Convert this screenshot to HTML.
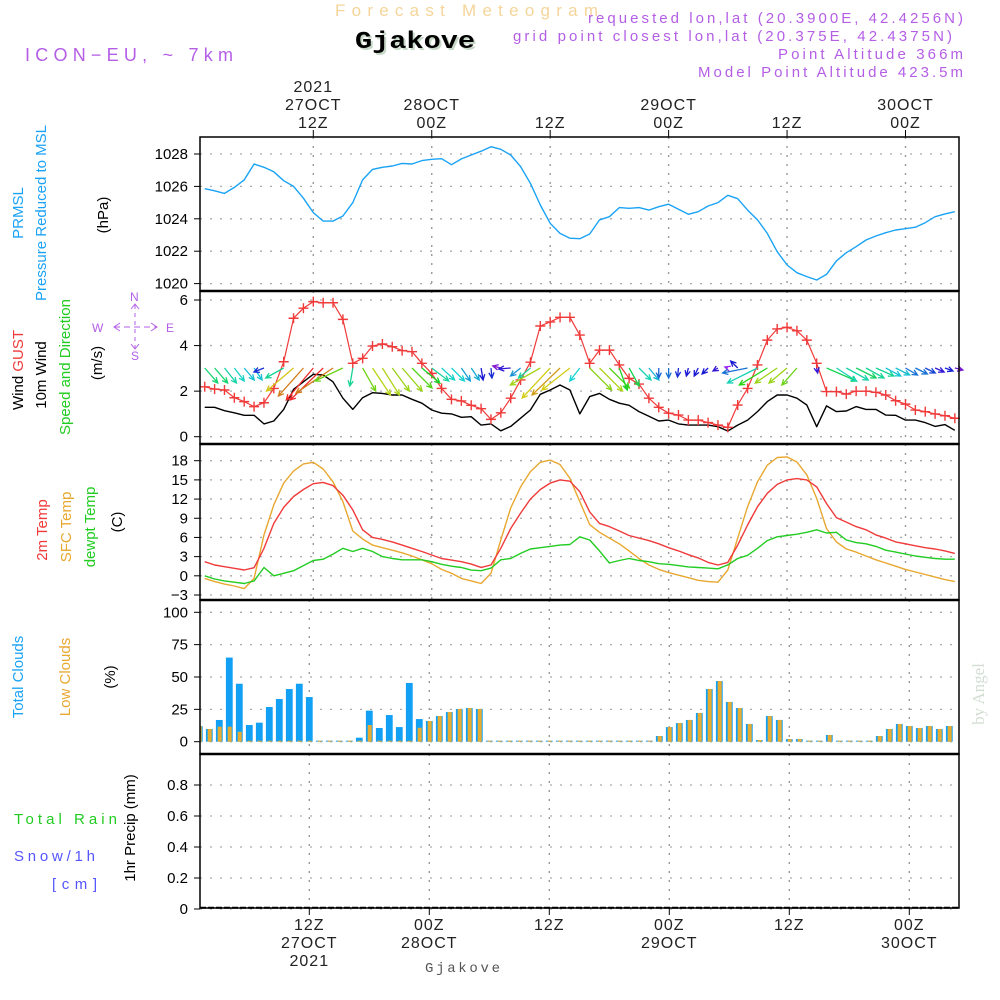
<!DOCTYPE html>
<html><head><meta charset="utf-8"><title>Forecast Meteogram Gjakove</title>
<style>
html,body{margin:0;padding:0;background:#fff;}
svg{display:block;font-family:"Liberation Sans",sans-serif;}
</style></head>
<body>
<svg id="chart" width="1000" height="1000" viewBox="0 0 1000 1000" xmlns="http://www.w3.org/2000/svg">
<g id="header">
  <text x="335" y="16" font-size="17" fill="#f5d59a" textLength="263" lengthAdjust="spacing">Forecast Meteogram</text>
  <text x="357" y="50" font-size="24" font-weight="bold" font-family="Liberation Mono, monospace" fill="#c8d8c8" textLength="120" lengthAdjust="spacingAndGlyphs">Gjakove</text>
  <text x="355" y="48" font-size="24" font-weight="bold" font-family="Liberation Mono, monospace" fill="#000" textLength="120" lengthAdjust="spacingAndGlyphs">Gjakove</text>
  <text x="25" y="61" font-size="18" fill="#b45ee6" textLength="208" lengthAdjust="spacing">ICON−EU, ~ 7km</text>
  <text x="588" y="23" font-size="15" fill="#b45ee6" textLength="375" lengthAdjust="spacing">requested lon,lat (20.3900E, 42.4256N)</text>
  <text x="513" y="41" font-size="15" fill="#b45ee6" textLength="439" lengthAdjust="spacing">grid point closest lon,lat (20.375E, 42.4375N)</text>
  <text x="778" y="59" font-size="15" fill="#b45ee6" textLength="185" lengthAdjust="spacing">Point Altitude 366m</text>
  <text x="698" y="77" font-size="15" fill="#b45ee6" textLength="265" lengthAdjust="spacing">Model Point Altitude 423.5m</text>
</g>
<g id="leftlabels" font-size="15">
  <text transform="translate(23,213) rotate(-90)" text-anchor="middle" fill="#1aa3f5">PRMSL</text>
  <text transform="translate(46,213) rotate(-90)" text-anchor="middle" fill="#1aa3f5">Pressure Reduced to MSL</text>
  <text transform="translate(108,215) rotate(-90)" text-anchor="middle" fill="#000">(hPa)</text>
  <text transform="translate(23,370) rotate(-90)" text-anchor="middle"><tspan fill="#000">Wind </tspan><tspan fill="#f03a3a">GUST</tspan></text>
  <text transform="translate(46,375) rotate(-90)" text-anchor="middle" fill="#000">10m Wind</text>
  <text transform="translate(70,367) rotate(-90)" text-anchor="middle" fill="#22cc22">Speed and Direction</text>
  <text transform="translate(102,363) rotate(-90)" text-anchor="middle" fill="#000">(m/s)</text>
  <text transform="translate(47,530) rotate(-90)" text-anchor="middle" fill="#f03a3a">2m Temp</text>
  <text transform="translate(71,527) rotate(-90)" text-anchor="middle" fill="#e8a830">SFC Temp</text>
  <text transform="translate(95,527) rotate(-90)" text-anchor="middle" fill="#22cc22">dewpt Temp</text>
  <text transform="translate(122,522) rotate(-90)" text-anchor="middle" fill="#000">(C)</text>
  <text transform="translate(23,677) rotate(-90)" text-anchor="middle" fill="#1aa3f5">Total Clouds</text>
  <text transform="translate(70,677) rotate(-90)" text-anchor="middle" fill="#e8a830">Low Clouds</text>
  <text transform="translate(115,677) rotate(-90)" text-anchor="middle" fill="#000">(%)</text>
  <text x="14" y="824" fill="#22cc22" textLength="103" lengthAdjust="spacing">Total   Rain</text>
  <text x="14" y="861" fill="#5555ff" textLength="81" lengthAdjust="spacing">Snow/1h</text>
  <text x="52" y="889" fill="#5555ff" textLength="45" lengthAdjust="spacing">[cm]</text>
  <text transform="translate(135,828) rotate(-90)" text-anchor="middle" fill="#000">1hr Precip (mm)</text>
  <g fill="#b45ee6" stroke="#b45ee6" font-size="12">
    <text x="92" y="332" stroke="none">W</text>
    <text x="166" y="332" stroke="none">E</text>
    <text x="130" y="301" stroke="none">N</text>
    <text x="131" y="360" stroke="none">S</text>
    <line x1="114" y1="327" x2="157" y2="327" stroke-dasharray="6,4" stroke-width="1"/>
    <line x1="135" y1="305" x2="135" y2="348" stroke-dasharray="4,4" stroke-width="1"/>
    <polyline points="120,323 114,327 120,331" fill="none"/>
    <polyline points="151,323 157,327 151,331" fill="none"/>
    <polyline points="131,309 135,304 139,309" fill="none"/>
    <polyline points="131,344 135,349 139,344" fill="none"/>
  </g>
  <text transform="translate(984,694) rotate(-90)" text-anchor="middle" font-family="Liberation Serif, serif" font-size="17" fill="#d3ded3">by Angel</text>
</g>
<g id="plot"></g>
</svg>
<script>
// ---- data (hourly from 01Z 27 OCT 2021) ----
const pressure = [1025.86,1025.73,1025.57,1025.94,1026.4,1027.38,1027.18,1026.9,1026.35,1026.0,1025.27,1024.38,1023.86,1023.86,1024.17,1025.0,1026.4,1027.05,1027.18,1027.26,1027.42,1027.38,1027.59,1027.67,1027.71,1027.34,1027.7,1027.94,1028.17,1028.45,1028.29,1027.94,1027.22,1026.19,1024.85,1023.72,1023.1,1022.8,1022.77,1023.06,1023.93,1024.13,1024.69,1024.65,1024.69,1024.54,1024.75,1024.9,1024.59,1024.28,1024.44,1024.79,1025.0,1025.45,1025.24,1024.54,1023.93,1023.1,1021.97,1021.15,1020.67,1020.43,1020.22,1020.57,1021.4,1021.91,1022.28,1022.69,1022.94,1023.14,1023.31,1023.39,1023.48,1023.76,1024.13,1024.3,1024.44];
const gust = [2.19,2.09,2.05,1.71,1.54,1.32,1.49,2.12,3.29,5.2,5.64,5.93,5.88,5.88,5.15,3.22,3.44,3.98,4.07,3.95,3.78,3.73,3.22,2.78,2.12,1.64,1.57,1.38,1.23,0.76,1.05,1.69,2.49,3.27,4.86,5.04,5.24,5.24,4.46,3.22,3.8,3.8,3.15,2.56,2.31,1.69,1.29,1.03,0.95,0.73,0.73,0.62,0.51,0.41,1.39,2.12,3.15,4.24,4.73,4.8,4.65,4.24,3.22,1.98,1.98,1.87,2.0,2.0,1.95,1.83,1.58,1.43,1.17,1.1,1.0,0.92,0.81];
const windSpeed = [1.29,1.29,1.14,1.05,0.94,0.94,0.56,0.69,1.2,2.08,2.41,2.74,2.71,2.41,1.69,1.2,1.71,1.93,1.9,1.83,1.83,1.64,1.47,1.17,1.03,1.0,0.85,0.88,0.51,0.56,0.26,0.45,0.81,1.17,1.86,2.05,2.27,2.05,1.0,1.76,1.9,1.64,1.47,1.38,1.1,0.9,0.69,0.73,0.56,0.51,0.51,0.51,0.44,0.25,0.51,0.73,1.1,1.54,1.83,1.83,1.69,1.39,0.44,1.35,1.1,1.13,1.32,1.2,1.2,0.95,0.94,0.73,0.73,0.62,0.45,0.53,0.28];
// wind arrow components (east, north)
const windU = [1.3,1.3,1.2,1.0,1.0,0.8,-1.0,0,-1.8,-2.7,-2.5,-2.7,-3.3,-3.7,-2.8,-0.3,1.3,1.8,1.7,1.7,2.0,2.0,1.8,1.7,1.3,1.3,0.9,0.8,0.2,0.1,-0.8,-1.2,-1.0,-1.2,-3.0,-2.8,-2.8,-2.8,-1.0,2.2,2.3,2.0,0.8,1.0,1.2,1.0,0,0,-0.1,-0.2,-0.4,-0.6,-0.5,-0.3,-0.7,-2.5,-3.0,-2.8,-2.2,-1.8,-1.5,0,0.1,3.0,2.0,2.2,2.0,1.8,1.8,1.5,1.4,1.2,1.2,1.0,0.9,0.8,0.8];
const windV = [-1.5,-1.5,-1.5,-1.3,-1.2,-1.2,-0.4,0,-1.0,-2.3,-2.8,-3.2,-3.2,-2.5,-1.3,-1.8,-2.3,-2.7,-2.7,-2.3,-2.3,-2.0,-1.5,-1.3,-1.2,-1.3,-1.3,-1.2,-1.2,-1.0,0.2,-0.1,-0.8,-1.0,-1.7,-3.0,-2.7,-2.2,-1.3,-2.2,-2.3,-2.0,-2.2,-1.8,-1.2,-1.2,-1.0,-1.0,-0.9,-0.8,-0.8,-0.6,-0.3,0.1,0.7,-0.5,-1.5,-1.7,-1.5,-1.5,-1.7,0,-0.5,-1.3,-1.3,-1.2,-1.0,-1.0,-0.8,-0.8,-0.7,-0.7,-0.6,-0.5,-0.4,-0.3,-0.2];
const temp2m = [2.2,1.69,1.43,1.17,0.91,1.27,4.3,8.2,10.7,12.4,13.5,14.4,14.6,14.1,12.6,10.3,7.2,6.0,5.7,5.3,4.8,4.3,3.8,3.25,2.7,2.45,2.2,1.83,1.31,1.69,4.3,7.4,9.8,12.0,13.5,14.5,15.0,14.8,13.15,10.0,8.2,7.7,7.0,6.3,5.9,5.5,5.0,4.4,3.9,3.3,2.8,2.1,1.69,2.1,4.8,7.95,10.8,12.9,14.3,15.0,15.2,15.0,13.9,11.3,9.1,8.4,7.7,7.2,6.4,5.9,5.3,5.0,4.7,4.4,4.2,3.9,3.5];
const tempSfc = [-0.4,-0.9,-1.3,-1.6,-2.0,-0.4,6.4,11.1,14.5,16.4,17.5,17.75,16.7,14.7,11.6,7.0,5.75,4.8,4.4,4.0,3.6,3.1,2.5,1.9,1.0,0.4,-0.4,-0.8,-1.2,0.4,5.6,10.6,13.9,16.3,17.75,18.1,17.4,15.25,11.6,8.0,6.8,5.9,5.0,3.9,2.7,1.69,1.0,0.5,0.1,-0.3,-0.7,-0.9,-1.0,0.9,5.9,10.8,14.7,17.3,18.5,18.6,17.8,15.8,12.1,7.4,5.3,4.2,3.7,3.1,2.5,2.0,1.5,1.0,0.6,0.2,-0.2,-0.6,-0.9];
const dewpt = [0,-0.5,-0.8,-1.0,-1.2,-0.8,1.3,0,0.4,0.8,1.6,2.4,2.6,3.4,4.3,3.8,4.3,3.8,3.0,2.7,2.5,2.5,2.5,2.2,1.8,1.5,1.3,0.9,0.8,1.2,2.5,2.7,3.5,4.2,4.4,4.6,4.8,4.9,6.1,5.6,3.9,2.0,2.4,2.7,2.4,2.2,1.9,1.8,1.6,1.4,1.3,1.2,1.1,1.7,2.7,3.2,4.3,5.5,6.1,6.3,6.5,6.8,7.2,6.7,6.8,5.6,5.2,5.0,4.6,4.0,3.7,3.4,3.1,2.9,2.7,2.6,2.6];
const totalClouds = [11.6,12,9.8,16.8,65,44.8,12.9,14.7,26.8,33,40.7,44.8,34.5,0,0,0,0,3.1,24,10.6,20.6,11.3,45.4,17.5,16,19.8,22.9,25.3,26,25.3,0,0,0,0,0,0,0,0,0,0,0,0,0,0,0,0,0,4.4,11.3,14.4,16.8,22.2,40.7,46.9,30.7,26,13.7,1.3,19.8,16.8,2,2,0.8,0.5,5.2,0,0,0,0,4.4,9.8,13.7,12.1,10.6,12.1,9.8,12.1];
const lowClouds = [11.6,12,9.8,11.6,11.6,7.7,0,0,0,0,0,0,0,0,0,0,0,0,12.9,0,0,0,0,10.8,16,19.8,22.9,25.3,26,25.3,0,0,0,0,0,0,0,0,0,0,0,0,0,0,0,0,0,4.4,11.3,14.4,16.8,22.2,40.7,46.9,30.7,26,13.7,1.3,19.8,16.8,2,2,0.8,0.5,5.2,0,0,0,0,4.4,9.8,13.7,12.1,10.6,12.1,9.8,12.1];
const precip = [0,0,0,0,0,0,0,0,0,0,0,0,0,0,0,0,0,0,0,0,0,0,0,0,0,0,0,0,0,0,0,0,0,0,0,0,0,0,0,0,0,0,0,0,0,0,0,0,0,0,0,0,0,0,0,0,0,0,0,0,0,0,0,0,0,0,0,0,0,0,0,0,0,0,0,0,0];
// tick labels
const pressTicks = [1020,1022,1024,1026,1028];
const windTicks = [0,2,4,6];
const tempTicks = [-3,0,3,6,9,12,15,18];
const cloudTicks = [0,25,50,75,100];
const precipTicks = [0,0.2,0.4,0.6,0.8];
const timeTickHours = [12,24,36,48,60,72];
const topTimeLabels = [["2021","27OCT","12Z"],["28OCT","00Z"],["12Z"],["29OCT","00Z"],["12Z"],["30OCT","00Z"]];
const botTimeLabels = [["12Z","27OCT","2021"],["00Z","28OCT"],["12Z"],["00Z","29OCT"],["12Z"],["00Z","30OCT"]];

// ---- axis functions ----
const X0 = 200, X1 = 959;
const xUp = h => 313.3 + (h - 12) * 9.87;
const xLo = h => 309.3 + (h - 12) * 10;
const hourOf = i => i + 1;
const yP = p => 154 + (1028 - p) * 16.2;
const yW = v => 436.7 - 22.78 * v;
const yT = t => 460.7 + (18 - t) * 6.395;
const yC = c => 741.7 - 1.294 * c;
const yR = r => 909 - 155 * r;

const NS = "http://www.w3.org/2000/svg";
const plot = document.getElementById('plot');
function mk(tag, attrs, parent) {
  const e = document.createElementNS(NS, tag);
  for (const k in attrs) e.setAttribute(k, attrs[k]);
  (parent || plot).appendChild(e);
  return e;
}
const panels = [
  {name:'pressure-panel', top:137, bot:291, ticks:pressTicks, y:yP, x:xUp, fmt:v=>String(v)},
  {name:'wind-panel', top:291, bot:444, ticks:windTicks, y:yW, x:xUp, fmt:v=>String(v)},
  {name:'temp-panel', top:444, bot:600, ticks:tempTicks, y:yT, x:xUp, fmt:v=>(v<0?'−'+(-v):String(v))},
  {name:'clouds-panel', top:600, bot:754, ticks:cloudTicks, y:yC, x:xLo, fmt:v=>String(v)},
  {name:'precip-panel', top:754, bot:908, ticks:precipTicks, y:yR, x:xLo, fmt:v=>(v===0?'0':v.toFixed(1))}
];
const clipDefs = mk('defs', {});
panels.forEach((p, idx) => {
  const cp = mk('clipPath', {id:'clip' + idx}, clipDefs);
  mk('rect', {x:X0, y:p.top, width:X1 - X0, height:p.bot - p.top}, cp);
  const g = mk('g', {});
  
  
  p.g = g;
  p.ticks.forEach(v => {
    const y = p.y(v);
    const l = mk('line', {x1:X0, x2:X1, y1:y, y2:y, stroke:'#aaa', 'stroke-width':1.3, 'stroke-dasharray':'2,8'}, g);
    
    
    mk('line', {x1:X0 - 6, x2:X0, y1:y, y2:y, stroke:'#000', 'stroke-width':1}, g);
    const t = mk('text', {x:X0 - 12, y:y + 5, 'font-size':15, 'text-anchor':'end', fill:'#000'}, g);
    
    
    t.textContent = p.fmt(v);
  });
  timeTickHours.forEach(h => {
    const x = p.x(h);
    const l = mk('line', {x1:x, x2:x, y1:p.top, y2:p.bot, stroke:'#999', 'stroke-width':1.4, 'stroke-dasharray':'2,7'}, g);
    
    
  });
});
function linePath(arr, yf, g, color, name, w) {
  const d = arr.map((v, i) => (i ? 'L' : 'M') + xUp(hourOf(i)).toFixed(1) + ',' + yf(v).toFixed(1)).join('');
  const e = mk('path', {d:d, fill:'none', stroke:color, 'stroke-width':w || 1.4, 'stroke-linejoin':'round'}, g);
  
  
  return e;
}
linePath(pressure, yP, panels[0].g, '#1aa3f5', 'pressure-line');
const wg = panels[1].g;
linePath(windSpeed, yW, wg, '#000', 'wind-speed-line', 1.4);
linePath(gust, yW, wg, '#f03a3a', 'gust-line', 1.2);
gust.forEach((v, i) => {
  const x = xUp(hourOf(i)), y = yW(v);
  const m = mk('path', {d:`M${x-5},${y}H${x+5}M${x},${y-5}V${y+5}`, stroke:'#f03a3a', 'stroke-width':1.4}, wg);
  
  
});
function speedColor(s) {
  const st = [[0.25,275],[0.6,228],[0.9,190],[1.2,160],[1.5,120],[1.75,85],[2.05,58],[2.4,33],[2.7,2]];
  if (s <= st[0][0]) return `hsl(${st[0][1]},90%,55%)`;
  for (let k = 1; k < st.length; k++) {
    if (s <= st[k][0]) {
      const f = (s - st[k-1][0]) / (st[k][0] - st[k-1][0]);
      return `hsl(${st[k-1][1] + f * (st[k][1] - st[k-1][1])},80%,46%)`;
    }
  }
  return 'hsl(0,85%,55%)';
}
windU.forEach((u, i) => {
  const v = windV[i];
  const dx = u * 10, dy = -v * 10;
  const len = Math.hypot(dx, dy);
  if (len < 0.5) return;
  const x0 = xUp(hourOf(i)), y0 = 368;
  const x1 = x0 + dx, y1 = y0 + dy;
  const ang = Math.atan2(dy, dx);
  const h = 6, a = 0.45;
  const col = speedColor(windSpeed[i]);
  const d = `M${x0},${y0}L${x1},${y1}M${x1 - h*Math.cos(ang - a)},${y1 - h*Math.sin(ang - a)}L${x1},${y1}L${x1 - h*Math.cos(ang + a)},${y1 - h*Math.sin(ang + a)}`;
  const e = mk('path', {d:d, stroke:col, 'stroke-width':1.3, fill:'none'}, wg);
  
  
});
const tg = panels[2].g;
linePath(tempSfc, yT, tg, '#e8a830', 'sfc-temp-line');
linePath(temp2m, yT, tg, '#f03a3a', 'temp-2m-line');
linePath(dewpt, yT, tg, '#22cc22', 'dewpt-line');
const cg = mk('g', {'clip-path':'url(#clip3)'}, panels[3].g);
totalClouds.forEach((c, k) => {
  const xc = xLo(k + 1) - 10;
  const y = yC(c);
  const h = Math.max(741.7 - y, 1);
  const b = mk('rect', {x:xc - 3.4, y:741.7 - h, width:6.8, height:h, fill:'#12a0f5'}, cg);
  
  
  const lc = lowClouds[k];
  const yl = yC(lc);
  const hl = Math.max(741.7 - yl, 1);
  const b2 = mk('rect', {x:xc - 1.6, y:741.7 - hl, width:4, height:hl, fill:'#e8ac30'}, cg);
  
  
});
const pg = mk('g', {'clip-path':'url(#clip4)'}, panels[4].g);
precip.forEach((r, k) => {
  const xc = xLo(k + 1) - 10;
  const h = 909 - yR(r);
  if (h > 0) {
    const b = mk('rect', {x:xc - 3.4, y:yR(r), width:6.8, height:h, fill:'#22cc22'}, pg);
    
    
  }
});
const zl = mk('line', {x1:X0, x2:X1, y1:907.5, y2:907.5, stroke:'#000', 'stroke-width':1.6, 'stroke-dasharray':'6,2'}, panels[4].g);


panels.forEach(p => {
  const r = mk('rect', {x:X0, y:p.top, width:X1 - X0, height:p.bot - p.top, fill:'none', stroke:'#000', 'stroke-width':1.5}, p.g);
  
  
});
[291, 444, 600, 754].forEach(y => mk('line', {x1:X0, x2:X1, y1:y, y2:y, stroke:'#000', 'stroke-width':2.5}));
mk('line', {x1:X0, x2:X1, y1:908, y2:908, stroke:'#000', 'stroke-width':1.5, 'stroke-dasharray':'6,2'});
timeTickHours.forEach((h, j) => {
  const xt = xUp(h);
  mk('line', {x1:xt, x2:xt, y1:130, y2:137, stroke:'#000', 'stroke-width':1});
  const lines = topTimeLabels[j];
  lines.forEach((s, n) => {
    const y = 128 - (lines.length - 1 - n) * 18;
    const t = mk('text', {x:xt, y:y, 'font-size':16, 'text-anchor':'middle', fill:'#222', 'letter-spacing':'1'});
    
    
    t.textContent = s;
  });
  const xb = xLo(h);
  mk('line', {x1:xb, x2:xb, y1:908, y2:915, stroke:'#000', 'stroke-width':1});
  botTimeLabels[j].forEach((s, n) => {
    const t = mk('text', {x:xb, y:930 + n * 18, 'font-size':16, 'text-anchor':'middle', fill:'#222', 'letter-spacing':'1'});
    
    
    t.textContent = s;
  });
});
const fl = mk('text', {x:425, y:972, 'font-size':14, fill:'#555', 'font-family':'Liberation Mono, monospace', textLength:75, lengthAdjust:'spacing'});


fl.textContent = 'Gjakove';
</script>
</body></html>
